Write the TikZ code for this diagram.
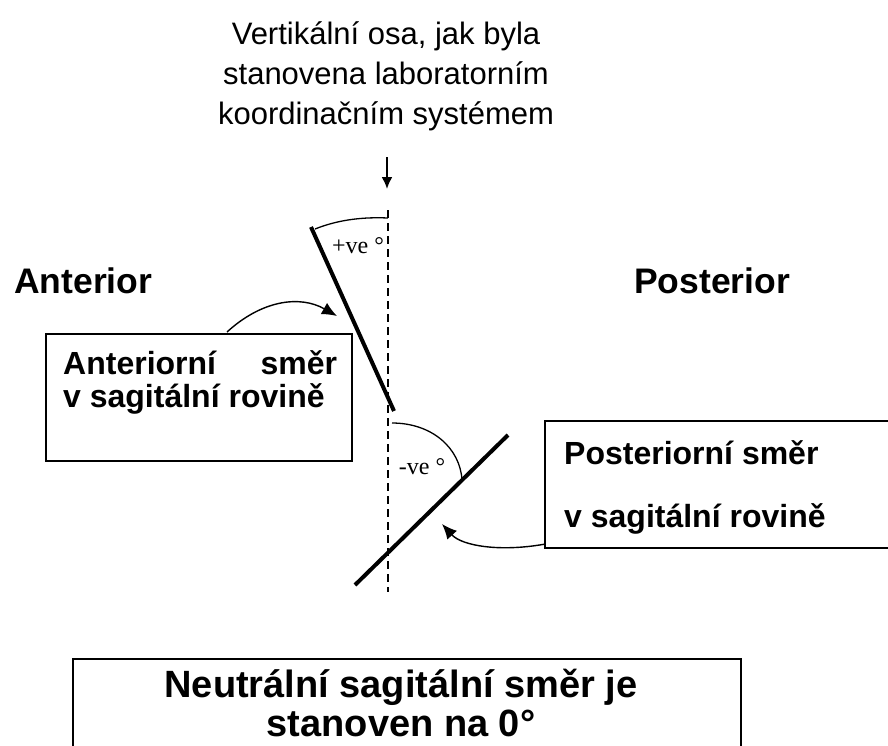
\documentclass[tikz,border=0pt]{standalone}
\usepackage{fontspec}
\setmainfont{Liberation Sans}
\newfontfamily\serifx{Liberation Serif}
\usetikzlibrary{arrows.meta}
\begin{document}
\begin{tikzpicture}[x=1pt,y=-1pt,
  boxx/.style={draw,line width=1.5pt,inner sep=0pt,anchor=north west},
  lbl/.style={font=\fontsize{32}{36}\selectfont\bfseries,inner sep=0pt},
  thick line/.style={line width=4pt},
  conn/.style={line width=1.4pt,-{Latex[length=15pt,width=13pt]}},
  ang/.style={font=\serifx\fontsize{24}{26}\selectfont,inner sep=0pt}]
\useasboundingbox (0,0) rectangle (888,745);
% top title
\node[font=\fontsize{31}{40}\selectfont,align=center,inner sep=0pt] (title) at (386,76)
  {Vertikální osa, jak byla\\stanovena laboratorním\\koordinačním systémem};
\coordinate (arS) at (387,157);
\coordinate (arE) at (387,189);
\draw[line width=2pt,-{Latex[length=12pt,width=11pt]}] (arS) -- (arE);
% dashed vertical axis
\coordinate (axT) at (388,210);
\coordinate (axB) at (388,592);
\draw[line width=2.7pt,dash pattern=on 8pt off 5pt] (axT) -- (axB);
% anterior line
\coordinate (a1) at (311,227);
\coordinate (a2) at (394,411);
\draw[thick line] (a1) -- (a2);
% posterior line
\coordinate (p1) at (355,585);
\coordinate (p2) at (508,435);
\draw[thick line] (p1) -- (p2);
% angle arcs
\coordinate (arc1s) at (315,229);
\coordinate (arc1e) at (388,218);
\draw[line width=1.3pt] (arc1s) .. controls (340,219) and (365,217) .. (arc1e);
\coordinate (arc2s) at (392,423);
\coordinate (arc2e) at (462,480);
\draw[line width=1.3pt] (arc2s) .. controls (432,423) and (460,448) .. (arc2e);
\node[ang] (plus) at (358,246) {+ve °};
\node[ang] (minus) at (422,467) {-ve °};
% side titles
\node[font=\fontsize{35.5}{40}\selectfont\bfseries,anchor=west,inner sep=0pt] (ant) at (14,281) {Anterior};
\node[font=\fontsize{35.5}{40}\selectfont\bfseries,anchor=west,inner sep=0pt] (post) at (634,281) {Posterior};
% anterior box
\node[boxx,minimum width=306pt,minimum height=127pt] (abox) at (45,333) {};
\node[lbl,anchor=west] (at1) at (63,363) {\makebox[274pt][s]{Anteriorní\hfill směr}};
\node[lbl,anchor=west] (at2) at (63,399) {v sagitální rovině};
% posterior box
\node[boxx,minimum width=360pt,minimum height=127pt] (pbox) at (544,420) {};
\node[lbl,anchor=west] (pt1) at (564,453) {Posteriorní směr};
\node[lbl,anchor=west] (pt2) at (564,519) {v sagitální rovině};
% bottom box
\node[boxx,minimum width=668pt,minimum height=120pt] (nbox) at (72,658) {};
\node[font=\fontsize{38}{39}\selectfont\bfseries,align=center,inner sep=0pt] (nt) at (401,703)
  {Neutrální sagitální směr je\\stanoven na 0°};
% connectors
\draw[conn] (abox.north west) ++(182,-1) coordinate (ac) .. controls (262,300) and (300,295) .. (337,316);
\draw[conn] (pbox.west) ++(0,60) coordinate (pc) .. controls (500,552) and (462,546) .. (442,524);
\end{tikzpicture}
\end{document}
